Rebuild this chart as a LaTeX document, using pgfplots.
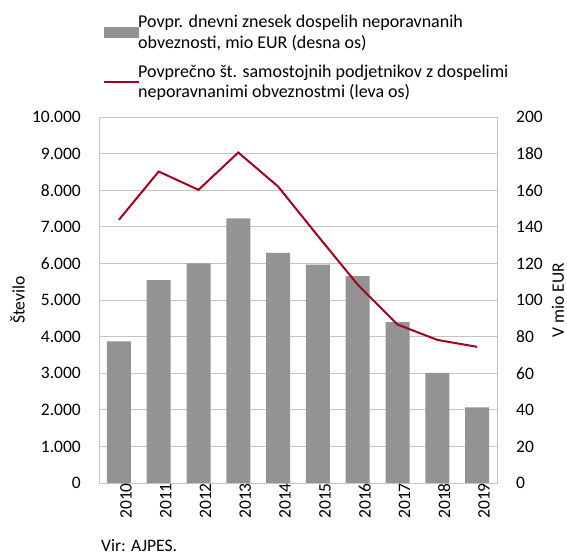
\documentclass[border=0pt]{standalone}
\usepackage{pgfplots}
\pgfplotsset{compat=1.18}
\usepackage{fontspec}
\setmainfont{Carlito}
\definecolor{barc}{HTML}{939393}
\definecolor{linec}{HTML}{A3001E}
\definecolor{gridc}{HTML}{C4C4C4}
\begin{document}
\begin{tikzpicture}[font=\fontsize{17.5}{21}\selectfont]
\useasboundingbox (-99pt,-73pt) rectangle (468pt,483pt);
\pgfplotsset{
  myaxis/.style={
    at={(0pt,0pt)}, anchor=south west,
    scale only axis, width=398pt, height=366pt,
    xmin=-0.5, xmax=9.5,
    major tick length=0pt,
    scaled y ticks=false,
    /pgf/number format/assume math mode=true,
    /pgf/number format/1000 sep={.},
    tick label style={font=\fontsize{17.5}{21}\selectfont},
    label style={font=\fontsize{17.5}{21}\selectfont},
    axis line style={gridc, line width=0.9pt},
  }
}
\begin{axis}[
  myaxis,
  ymin=0, ymax=200,
  xtick={0,...,9},
  xticklabels={2010,2011,2012,2013,2014,2015,2016,2017,2018,2019},
  xticklabel style={rotate=90, anchor=east, inner sep=0pt, yshift=-7pt},
  ytick={0,20,...,200},
  yticklabel pos=right,
  yticklabel style={anchor=west, inner sep=0pt, xshift=19pt},
  every axis y label/.style={at={(axis description cs:1,0.5)}, xshift=61pt, rotate=90, anchor=center},
  ylabel={V mio EUR},
  ymajorgrids, grid style={gridc, line width=0.9pt},
]
\addplot[ybar, bar width=24pt, fill=barc, draw=none] coordinates {
  (0,77.4) (1,110.9) (2,120.0) (3,144.6) (4,125.8)
  (5,119.3) (6,113.1) (7,87.9) (8,60.2) (9,41.3)
};
\end{axis}
\begin{axis}[
  myaxis,
  ymin=0, ymax=10000,
  hide x axis,
  axis y line*=left,
  ytick={0,1000,...,10000},
  yticklabel style={anchor=east, inner sep=0pt, xshift=-18pt},
  every axis y label/.style={at={(axis description cs:0,0.5)}, xshift=-81.5pt, rotate=90, anchor=center},
  ylabel={Število},
  legend style={draw=none, fill=none, at={(axis description cs:0,1)}, anchor=north west,
    xshift=4pt, yshift=102pt, inner sep=0pt, row sep=15pt, column sep=-2pt,
    nodes={inner sep=0pt, align=left, font=\fontsize{18}{20.5}\selectfont}},
  legend cell align=left,
]
\addlegendimage{legend image code/.code={\fill[barc] (0pt,-5pt) rectangle (34pt,5pt);}}
\addlegendentry{Povpr. dnevni znesek dospelih neporavnanih\\obveznosti, mio EUR (desna os)}
\addplot[linec, line width=2pt, legend image code/.code={\draw[linec, line width=2pt] (0pt,0pt) -- (35pt,0pt);}] coordinates {
  (0,7190) (1,8510) (2,8010) (3,9030) (4,8100)
  (5,6750) (6,5420) (7,4330) (8,3910) (9,3720)
};
\addlegendentry{Povprečno št. samostojnih podjetnikov z dospelimi\\neporavnanimi obveznostmi (leva os)}
\end{axis}
\node[anchor=base west, inner sep=0pt] at (2pt,-68pt) {Vir: AJPES.};
\end{tikzpicture}
\end{document}
